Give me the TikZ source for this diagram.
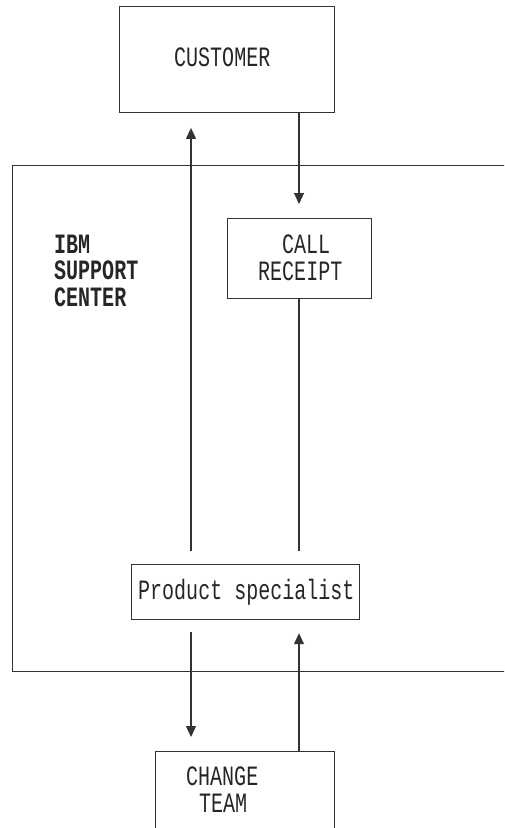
\documentclass[tikz,border=0pt]{standalone}
\usepackage{fontspec}
\usetikzlibrary{arrows.meta}
\newfontfamily\diagmono{Liberation Mono}[FakeStretch=0.715]
\begin{document}
\begin{tikzpicture}[x=1pt,y=-1pt,
  box/.style={draw=black!80, line width=1.2pt, rectangle, inner sep=0pt, anchor=north west},
  lbl/.style={anchor=base west, inner sep=0pt, text=black!85, font=\diagmono\fontsize{28}{27}\selectfont},
  blbl/.style={lbl, font=\diagmono\bfseries\fontsize{28}{27}\selectfont},
  conn/.style={draw=black!80, line width=1.2pt},
  arr/.style={conn, -{Triangle[length=11pt,width=10pt]}}]
\clip (0,0) rectangle (504,828);
\fill[white] (0,0) rectangle (504,828);
% boxes
\node[box, minimum width=215pt, minimum height=105.7pt] (customer) at (119,6) {};
\node[box, minimum width=600pt, minimum height=506pt] (center) at (12,165) {};
\node[box, minimum width=144pt, minimum height=80pt] (call) at (227,218) {};
\node[box, minimum width=228pt, minimum height=55pt] (ps) at (131,564) {};
\node[box, minimum width=179pt, minimum height=200pt] (change) at (155,751) {};
% texts
\node[lbl] (tcust) at (174,66.7) {CUSTOMER};
\node[blbl] (tibm) at (54,253) {IBM};
\node[blbl] (tsup) at (54,279.7) {SUPPORT};
\node[blbl] (tcen) at (54,306.4) {CENTER};
\node[lbl] (tcall) at (282,253) {CALL};
\node[lbl] (trec) at (258,280) {RECEIPT};
\node[lbl] (tps) at (138,599) {Product specialist};
\node[lbl] (tchg) at (186,785) {CHANGE};
\node[lbl] (tteam) at (199,812) {TEAM};
% connectors
\coordinate (xl) at (191,0);
\coordinate (xr) at (299,0);
\draw[arr, shorten <=13pt, shorten >=15pt] (ps.north -| xl) -- (customer.south -| xl);
\draw[arr, shorten >=14pt] (customer.south -| xr) -- (call.north -| xr);
\draw[conn, shorten >=13pt] (call.south -| xr) -- (ps.north -| xr);
\draw[arr, shorten <=12pt, shorten >=14pt] (ps.south -| xl) -- (change.north -| xl);
\draw[arr, shorten >=13pt] (change.north -| xr) -- (ps.south -| xr);
\end{tikzpicture}
\end{document}
